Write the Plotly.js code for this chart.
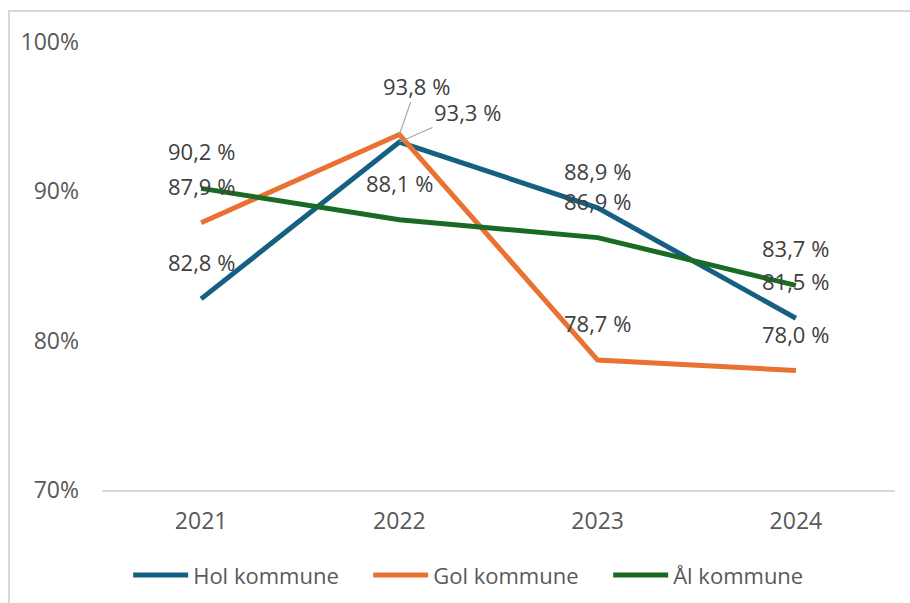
<!DOCTYPE html>
<html>
<head>
<meta charset="utf-8">
<script src="https://cdn.plot.ly/plotly-3.0.1.min.js"></script>
<style>
  html, body { margin: 0; padding: 0; background: #ffffff; overflow: hidden; }
  #chart { position: absolute; left: 0; top: 0; width: 910px; height: 603px; }
  #frame { position: absolute; left: 8px; top: 10px; width: 1000px; height: 700px;
           border: 2px solid #d9d9d9; pointer-events: none; }
</style>
</head>
<body>
<div id="chart"></div>
<div id="frame"></div>
<script>
const years = ['2021', '2022', '2023', '2024'];
const holValues = [82.8, 93.3, 88.9, 81.5];
const golValues = [87.9, 93.8, 78.7, 78.0];
const alValues = [90.2, 88.1, 86.9, 83.7];
const seriesNames = ['Hol kommune', 'Gol kommune', 'Ål kommune'];
const yTickVals = [70, 80, 90, 100];
const yTickText = ['70%', '80%', '90%', '100%'];

const colors = ['#156082', '#E97132', '#196B24'];
const allSeries = [holValues, golValues, alValues];
const FONT = '"Open Sans", sans-serif';

const traces = allSeries.map((vals, i) => ({
  type: 'scatter', mode: 'lines', x: years, y: vals, name: seriesNames[i],
  line: { color: colors[i], width: 5 }, hoverinfo: 'skip'
}));

function fmt(v) { return v.toFixed(1).replace('.', ',') + ' %'; }

const annotations = [];
allSeries.forEach((vals, s) => {
  vals.forEach((v, j) => {
    const a = {
      x: j, y: v, xref: 'x', yref: 'y', text: fmt(v),
      font: { family: FONT, size: 22, color: '#404040' }, showarrow: false, yshift: 37
    };
    if (s === 0 && j === 1) {
      a.showarrow = true; a.yshift = 0; a.ax = 68; a.ay = -30; a.arrowhead = 0;
      a.arrowwidth = 1.2; a.arrowcolor = '#a6a6a6'; a.standoff = 0;
    }
    if (s === 1 && j === 1) {
      a.showarrow = true; a.yshift = 0; a.ax = 17; a.ay = -49; a.arrowhead = 0;
      a.arrowwidth = 1.2; a.arrowcolor = '#a6a6a6'; a.standoff = 0;
    }
    annotations.push(a);
  });
});

const layout = {
  width: 910, height: 603,
  margin: { l: 102, r: 15, t: 42, b: 113, autoexpand: false },
  paper_bgcolor: 'rgba(0,0,0,0)', plot_bgcolor: 'rgba(0,0,0,0)',
  font: { family: FONT, size: 22, color: '#595959' },
  showlegend: true,
  legend: { orientation: 'h', x: 0.033, xanchor: 'left', y: -0.19, yanchor: 'middle',
            font: { family: FONT, size: 22, color: '#595959' }, itemwidth: 55,
            entrywidth: 170, entrywidthmode: 'pixels', traceorder: 'normal' },
  xaxis: { type: 'category', range: [-0.5, 3.5], showgrid: false, zeroline: false,
           showline: true, linecolor: '#d9d9d9', linewidth: 2, ticks: '',
           ticklabelstandoff: 9, tickfont: { size: 23 }, fixedrange: true },
  yaxis: { range: [70, 100], tickvals: yTickVals, ticktext: yTickText, showgrid: false,
           zeroline: false, showline: false, ticks: '', ticklabelstandoff: 22,
           tickfont: { size: 23 }, fixedrange: true },
  annotations: annotations
};

Plotly.newPlot('chart', traces, layout, { displayModeBar: false, staticPlot: true });
</script>
</body>
</html>
